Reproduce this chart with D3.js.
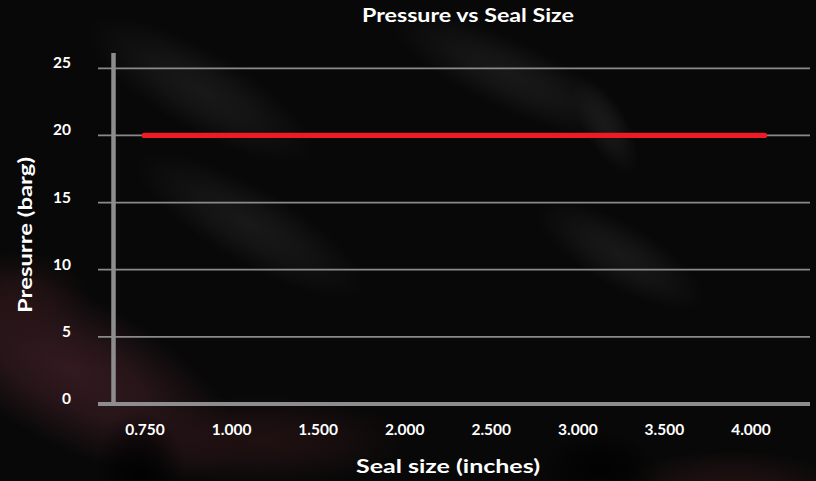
<!DOCTYPE html>
<html>
<head>
<meta charset="utf-8">
<script src="https://cdn.jsdelivr.net/npm/d3@7"></script>
<style>
  html, body { margin: 0; padding: 0; background: #070707; }
  svg { display: block; }
  text { font-family: Lato, "Open Sans", sans-serif; font-weight: 700; fill: #ffffff; }
</style>
</head>
<body>
<svg id="chart" width="816" height="481"></svg>
<script>
// Chart data
const sealSizes = ["0.750", "1.000", "1.500", "2.000", "2.500", "3.000", "3.500", "4.000"];
const pressureBarg = [20, 20, 20, 20, 20, 20, 20, 20];
const pressureTicks = [0, 5, 10, 15, 20, 25];

const chartTitle = "Pressure vs Seal Size";
const xTitle = "Seal size (inches)";
const yTitle = "Presurre (barg)";

const W = 816, H = 481;
const svg = d3.select("#chart");

// ---- dark backdrop with soft glows (radial fades, no filters) ----
const defs = svg.append("defs");
function glow(id, color, peak) {
  const g = defs.append("radialGradient").attr("id", id);
  g.append("stop").attr("offset", "0%").attr("stop-color", color).attr("stop-opacity", peak);
  g.append("stop").attr("offset", "45%").attr("stop-color", color).attr("stop-opacity", peak * 0.7);
  g.append("stop").attr("offset", "100%").attr("stop-color", color).attr("stop-opacity", 0);
}
glow("warm", "#3a1d24", 0.85);
glow("warmDim", "#2a1416", 0.7);
glow("grey", "#1e1e1e", 0.75);
glow("shade", "#000000", 0.8);

svg.append("rect").attr("width", W).attr("height", H).attr("fill", "#080808");

const bg = svg.append("g");
const blob = (cx, cy, rx, ry, a, fill) =>
  bg.append("ellipse").attr("cx", cx).attr("cy", cy).attr("rx", rx).attr("ry", ry)
    .attr("transform", `rotate(${a} ${cx} ${cy})`).attr("fill", `url(#${fill})`);

// warm glow lower left and along the bottom
blob(70, 370, 190, 75, 28, "warm");
blob(20, 300, 70, 50, 0, "warmDim");
blob(260, 440, 150, 45, 0, "warmDim");
blob(730, 485, 110, 35, 0, "warmDim");
// shadows
blob(140, 470, 45, 60, 0, "shade");
blob(600, 470, 60, 40, 0, "shade");
// faint grey streaks
blob(200, 90, 130, 40, 30, "grey");
blob(510, 75, 130, 35, 25, "grey");
blob(250, 225, 130, 38, 30, "grey");
blob(620, 255, 95, 32, 30, "grey");
blob(605, 125, 55, 22, 60, "grey");

// ---- scales ----
const yScale = d3.scaleLinear().domain([0, 25]).range([404, 68.3]);
const xLabel = d3.scalePoint().domain(sealSizes).range([145, 751]);
const xLine = d3.scalePoint().domain(sealSizes).range([144.3, 764.5]);

const gridLeft = 98, gridRight = 810, axisX = 113.5;
const axisColor = "#8d8d90";

// horizontal gridlines
svg.append("g").selectAll("line").data(pressureTicks.filter(d => d > 0)).join("line")
  .attr("x1", gridLeft).attr("x2", gridRight)
  .attr("y1", d => yScale(d)).attr("y2", d => yScale(d))
  .attr("stroke", "#8a8a8c").attr("stroke-width", 1.8);

// y axis line
svg.append("line").attr("x1", axisX).attr("x2", axisX)
  .attr("y1", 53).attr("y2", yScale(0) + 2)
  .attr("stroke", axisColor).attr("stroke-width", 4.5);

// baseline
svg.append("line").attr("x1", gridLeft).attr("x2", gridRight)
  .attr("y1", yScale(0)).attr("y2", yScale(0))
  .attr("stroke", axisColor).attr("stroke-width", 4);

// y tick labels
svg.append("g").selectAll("text").data(pressureTicks).join("text")
  .attr("x", 71).attr("y", d => yScale(d))
  .attr("text-anchor", "end")
  .attr("font-size", 15.5)
  .text(d => d);

// x tick labels
svg.append("g").selectAll("text").data(sealSizes).join("text")
  .attr("x", d => xLabel(d)).attr("y", 435)
  .attr("text-anchor", "middle")
  .attr("font-size", 15.5)
  .text(d => d);

// data line
const line = d3.line().x((d, i) => xLine(sealSizes[i])).y(d => yScale(d));
svg.append("path").datum(pressureBarg)
  .attr("d", line)
  .attr("fill", "none")
  .attr("stroke", "#ed1c24")
  .attr("stroke-width", 5.3)
  .attr("stroke-linecap", "round");

// titles
svg.append("text").attr("x", 468).attr("y", 22)
  .attr("text-anchor", "middle").attr("font-size", 19)
  .attr("textLength", 212).attr("lengthAdjust", "spacingAndGlyphs")
  .text(chartTitle);

svg.append("text").attr("x", 448).attr("y", 473)
  .attr("text-anchor", "middle").attr("font-size", 18.5)
  .attr("textLength", 184).attr("lengthAdjust", "spacingAndGlyphs")
  .text(xTitle);

svg.append("text")
  .attr("transform", "translate(32,235) rotate(-90)")
  .attr("text-anchor", "middle").attr("font-size", 18)
  .attr("textLength", 156).attr("lengthAdjust", "spacingAndGlyphs")
  .text(yTitle);
</script>
</body>
</html>
